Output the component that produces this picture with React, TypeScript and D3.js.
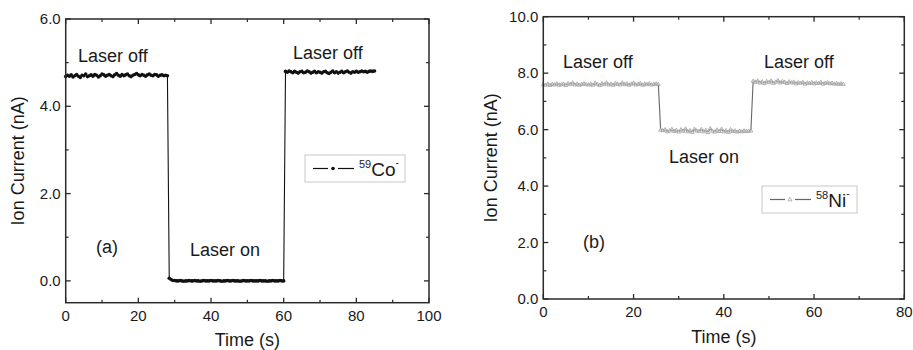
import React from "react";
import * as d3 from "d3";

// ---------- DATA ----------
const coStep = 0.5; // s between samples
const coValues = [
  4.68, 4.71, 4.69, 4.72, 4.67, 4.70, 4.73, 4.69, 4.66, 4.71,
  4.70, 4.74, 4.68, 4.70, 4.72, 4.69, 4.73, 4.71, 4.67, 4.70,
  4.74, 4.72, 4.69, 4.71, 4.73, 4.70, 4.68, 4.72, 4.75, 4.71,
  4.69, 4.73, 4.70, 4.72, 4.74, 4.70, 4.68, 4.71, 4.73, 4.75,
  4.72, 4.70, 4.73, 4.71, 4.69, 4.72, 4.74, 4.71, 4.70, 4.73,
  4.72, 4.69, 4.71, 4.72, 4.70, 4.71, 4.70, 0.06, 0.03, 0.01,
  0.01, 0.00, 0.00, 0.01, 0.00, -0.01, 0.00, 0.00, 0.01, 0.00,
  0.00, 0.01, 0.00, 0.00, -0.01, 0.00, 0.01, 0.00, 0.00, 0.00,
  0.01, 0.00, 0.00, 0.00, 0.01, 0.00, -0.01, 0.00, 0.00, 0.01,
  0.00, 0.00, 0.01, 0.00, 0.00, 0.00, -0.01, 0.00, 0.01, 0.00,
  0.00, 0.00, 0.01, 0.00, 0.00, 0.00, 0.00, 0.01, 0.00, 0.00,
  0.00, -0.01, 0.00, 0.00, 0.01, 0.00, 0.00, 0.00, 0.01, 0.00,
  0.00, 4.80, 4.78, 4.81, 4.79, 4.77, 4.80, 4.78, 4.76, 4.79,
  4.80, 4.77, 4.78, 4.81, 4.79, 4.76, 4.78, 4.80, 4.77, 4.79,
  4.78, 4.76, 4.79, 4.80, 4.77, 4.75, 4.78, 4.81, 4.77, 4.79,
  4.76, 4.78, 4.80, 4.77, 4.79, 4.81, 4.78, 4.76, 4.79, 4.78,
  4.80, 4.78, 4.79, 4.81, 4.79, 4.80, 4.78, 4.80, 4.81, 4.80,
  4.81,
];

const niStep = 0.5;
const niValues = [
  7.60, 7.58, 7.62, 7.57, 7.61, 7.59, 7.63, 7.58, 7.60, 7.62,
  7.57, 7.64, 7.60, 7.66, 7.59, 7.62, 7.58, 7.61, 7.63, 7.60,
  7.59, 7.62, 7.58, 7.65, 7.61, 7.57, 7.63, 7.60, 7.66, 7.59,
  7.62, 7.58, 7.64, 7.61, 7.59, 7.66, 7.60, 7.63, 7.58, 7.62,
  7.65, 7.59, 7.61, 7.64, 7.58, 7.62, 7.60, 7.63, 7.59, 7.61,
  7.62, 7.60, 5.99, 5.97, 6.00, 5.93, 5.96, 6.01, 5.94, 5.98,
  5.92, 6.00, 5.95, 6.03, 5.93, 5.97, 5.91, 6.02, 5.96, 5.94,
  6.01, 5.93, 5.98, 5.90, 6.04, 5.95, 5.92, 5.99, 5.94, 6.02,
  5.93, 5.97, 5.91, 6.00, 5.94, 5.96, 5.92, 5.95, 5.93, 5.96,
  5.94, 5.95, 5.96, 7.72, 7.68, 7.73, 7.66, 7.70, 7.64, 7.71,
  7.67, 7.73, 7.65, 7.69, 7.74, 7.66, 7.71, 7.68, 7.64, 7.70,
  7.66, 7.69, 7.63, 7.67, 7.65, 7.68, 7.62, 7.66, 7.64, 7.67,
  7.63, 7.66, 7.64, 7.68, 7.62, 7.65, 7.67, 7.63, 7.65, 7.62,
  7.64, 7.61, 7.63, 7.61,
];

const coXTicks = [0, 20, 40, 60, 80, 100];
const coYTicks = [0, 2, 4, 6];
const niXTicks = [0, 20, 40, 60, 80];
const niYTicks = [0, 2, 4, 6, 8, 10];

const FONT = "'Liberation Sans', Arial, Helvetica, sans-serif";
const TXT = "#1a1a1a";
const FRAME = "#2a2a2a";

type Ann = { text: string; x: number; y: number };

type PanelProps = {
  left: number;
  right: number;
  top: number;
  bottom: number;
  xDomain: [number, number];
  yDomain: [number, number];
  xTicks: number[];
  yTicks: number[];
  xMinorStep: number;
  yMinorStep: number;
  values: number[];
  step: number;
  lineColor: string;
  marker: "dot" | "tri";
  markerColor: string;
  anns: Ann[];
  tag: { text: string; x: number; y: number };
  legend: { x: number; y: number; w: number; h: number; mass: string; sym: string };
  yLabelX: number;
  xLabelY: number;
};

function Panel(p: PanelProps) {
  const x = d3.scaleLinear().domain(p.xDomain).range([p.left, p.right]);
  const y = d3.scaleLinear().domain(p.yDomain).range([p.bottom, p.top]);
  const pts = p.values.map((v, i) => [i * p.step, v] as [number, number]);
  const line = d3
    .line<[number, number]>()
    .x((d) => x(d[0]))
    .y((d) => y(d[1]));

  const xMinor = d3.range(p.xDomain[0], p.xDomain[1] + 1e-9, p.xMinorStep).filter((v) => !p.xTicks.includes(v));
  const yMinor = d3
    .range(Math.ceil(p.yDomain[0] / p.yMinorStep) * p.yMinorStep, p.yDomain[1] + 1e-9, p.yMinorStep)
    .filter((v) => !p.yTicks.some((t) => Math.abs(t - v) < 1e-9));

  const maj = 5;
  const min = 3;
  const tri = (cx: number, cy: number, s: number) =>
    `M${cx},${cy - s} L${cx + s * 0.9},${cy + s * 0.6} L${cx - s * 0.9},${cy + s * 0.6} Z`;

  const lg = p.legend;
  const lgMidY = lg.y + lg.h / 2;
  const l1 = lg.x + 8;
  const mk = lg.x + 28;
  const l2 = lg.x + 49;

  return (
    <g>
      {/* data line */}
      <path d={line(pts) || ""} fill="none" stroke={p.lineColor} strokeWidth={1.1} />
      {pts.map((d, i) =>
        p.marker === "dot" ? (
          <circle key={i} cx={x(d[0])} cy={y(d[1])} r={1.8} fill={p.markerColor} />
        ) : (
          <path key={i} d={tri(x(d[0]), y(d[1]), 2.1)} fill="white" fillOpacity={0.6} stroke={p.markerColor} strokeWidth={0.75} />
        )
      )}

      {/* frame */}
      <rect x={p.left} y={p.top} width={p.right - p.left} height={p.bottom - p.top} fill="none" stroke={FRAME} strokeWidth={1.5} />

      {/* ticks */}
      {p.xTicks.map((t) => (
        <g key={"xt" + t}>
          <line x1={x(t)} x2={x(t)} y1={p.bottom} y2={p.bottom - maj} stroke={FRAME} strokeWidth={1.3} />
          <line x1={x(t)} x2={x(t)} y1={p.top} y2={p.top + maj} stroke={FRAME} strokeWidth={1.3} />
          <text x={x(t)} y={p.bottom + 18} textAnchor="middle" fontSize={15} fill={TXT} fontFamily={FONT}>
            {t}
          </text>
        </g>
      ))}
      {xMinor.map((t) => (
        <g key={"xm" + t}>
          <line x1={x(t)} x2={x(t)} y1={p.bottom} y2={p.bottom - min} stroke={FRAME} strokeWidth={1.2} />
          <line x1={x(t)} x2={x(t)} y1={p.top} y2={p.top + min} stroke={FRAME} strokeWidth={1.2} />
        </g>
      ))}
      {p.yTicks.map((t) => (
        <g key={"yt" + t}>
          <line x1={p.left} x2={p.left + maj} y1={y(t)} y2={y(t)} stroke={FRAME} strokeWidth={1.3} />
          <line x1={p.right} x2={p.right - maj} y1={y(t)} y2={y(t)} stroke={FRAME} strokeWidth={1.3} />
          <text x={p.left - 5} y={y(t) + 5} textAnchor="end" fontSize={15} fill={TXT} fontFamily={FONT}>
            {t.toFixed(1)}
          </text>
        </g>
      ))}
      {yMinor.map((t) => (
        <g key={"ym" + t}>
          <line x1={p.left} x2={p.left + min} y1={y(t)} y2={y(t)} stroke={FRAME} strokeWidth={1.2} />
          <line x1={p.right} x2={p.right - min} y1={y(t)} y2={y(t)} stroke={FRAME} strokeWidth={1.2} />
        </g>
      ))}

      {/* axis titles */}
      <text
        transform={`translate(${p.yLabelX},${(p.top + p.bottom) / 2}) rotate(-90)`}
        textAnchor="middle"
        fontSize={18}
        fill={TXT}
        fontFamily={FONT}
      >
        Ion Current (nA)
      </text>
      <text x={(p.left + p.right) / 2} y={p.xLabelY} textAnchor="middle" fontSize={18} fill={TXT} fontFamily={FONT}>
        Time (s)
      </text>

      {/* annotations */}
      {p.anns.map((a, i) => (
        <text key={i} x={a.x} y={a.y} fontSize={18} fill={TXT} fontFamily={FONT}>
          {a.text}
        </text>
      ))}
      <text x={p.tag.x} y={p.tag.y} fontSize={18} fill={TXT} fontFamily={FONT}>
        {p.tag.text}
      </text>

      {/* legend */}
      <rect x={lg.x} y={lg.y} width={lg.w} height={lg.h} fill="white" stroke="#c8c8c8" strokeWidth={1} />
      <line x1={l1} x2={mk - 5} y1={lgMidY} y2={lgMidY} stroke={p.lineColor} strokeWidth={1.2} />
      <line x1={mk + 5} x2={l2} y1={lgMidY} y2={lgMidY} stroke={p.lineColor} strokeWidth={1.2} />
      {p.marker === "dot" ? (
        <circle cx={mk} cy={lgMidY} r={1.8} fill={p.markerColor} />
      ) : (
        <path d={tri(mk, lgMidY, 2.2)} fill="white" stroke={p.markerColor} strokeWidth={0.7} />
      )}
      <text x={l2 + 5} y={lgMidY + 7} fontSize={19} fill={TXT} fontFamily={FONT}>
        <tspan fontSize={11} dy={-8}>{lg.mass}</tspan>
        <tspan dy={8}>{lg.sym}</tspan>
        <tspan fontSize={10} dy={-10}>-</tspan>
      </text>
    </g>
  );
}

export default function App() {
  return (
    <svg
      width={913}
      height={350}
      viewBox="0 0 913 350"
      style={{ position: "absolute", left: 0, top: 0, background: "white" }}
    >
      <rect x={0} y={0} width={913} height={350} fill="white" />
      <Panel
        left={65.7}
        right={429}
        top={19}
        bottom={302.7}
        xDomain={[0, 100]}
        yDomain={[-0.5, 6]}
        xTicks={coXTicks}
        yTicks={coYTicks}
        xMinorStep={10}
        yMinorStep={1}
        values={coValues}
        step={coStep}
        lineColor="#111"
        marker="dot"
        markerColor="#111"
        anns={[
          { text: "Laser off", x: 78, y: 62 },
          { text: "Laser off", x: 293, y: 59 },
          { text: "Laser on", x: 190, y: 256 },
        ]}
        tag={{ text: "(a)", x: 96, y: 253 }}
        legend={{ x: 305, y: 155, w: 100, h: 27, mass: "59", sym: "Co" }}
        yLabelX={24}
        xLabelY={346}
      />
      <Panel
        left={543.3}
        right={904.3}
        top={16.7}
        bottom={299}
        xDomain={[0, 80]}
        yDomain={[0, 10]}
        xTicks={niXTicks}
        yTicks={niYTicks}
        xMinorStep={10}
        yMinorStep={1}
        values={niValues}
        step={niStep}
        lineColor="#666"
        marker="tri"
        markerColor="#9a9a9a"
        anns={[
          { text: "Laser off", x: 563, y: 68 },
          { text: "Laser off", x: 764, y: 68 },
          { text: "Laser on", x: 669, y: 163 },
        ]}
        tag={{ text: "(b)", x: 583, y: 248 }}
        legend={{ x: 762, y: 186, w: 95, h: 27, mass: "58", sym: "Ni" }}
        yLabelX={497}
        xLabelY={343}
      />
    </svg>
  );
}
